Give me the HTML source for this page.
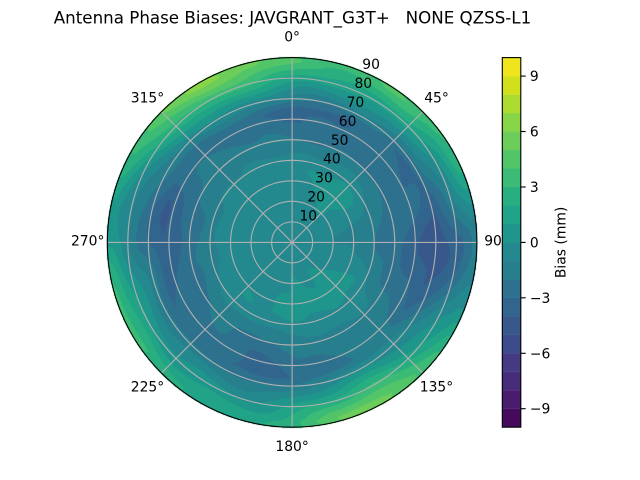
<!DOCTYPE html>
<html><head><meta charset="utf-8">
<style>
html,body{margin:0;padding:0;background:#fff;}
#w{position:relative;width:640px;height:480px;overflow:hidden;background:#fff;}
canvas,svg{position:absolute;left:0;top:0;}
text{font-family:"DejaVu Sans","Liberation Sans",sans-serif;fill:#000;}
</style></head><body>
<div id="w">
<svg width="640" height="480">
  <circle cx="292.1" cy="242.4" r="184.8" fill="#29af7f"/>
  <circle cx="292.1" cy="242.4" r="170" fill="#2d718e"/>
  <circle cx="292.1" cy="242.4" r="105" fill="#277f8e"/>
  <circle cx="292.1" cy="242.4" r="80" fill="#23898e"/>
</svg>
<canvas id="c" width="640" height="480"></canvas>
<svg width="640" height="480">
  <g fill="none" stroke="#b0b0b0" stroke-width="1.1">
    <circle cx="292.1" cy="242.4" r="20.53"/>
    <circle cx="292.1" cy="242.4" r="41.07"/>
    <circle cx="292.1" cy="242.4" r="61.6"/>
    <circle cx="292.1" cy="242.4" r="82.13"/>
    <circle cx="292.1" cy="242.4" r="102.67"/>
    <circle cx="292.1" cy="242.4" r="123.2"/>
    <circle cx="292.1" cy="242.4" r="143.73"/>
    <circle cx="292.1" cy="242.4" r="164.27"/>
    <line x1="292.1" y1="57.6" x2="292.1" y2="427.2"/>
    <line x1="107.3" y1="242.4" x2="476.9" y2="242.4"/>
    <line x1="161.43" y1="111.73" x2="422.77" y2="373.07"/>
    <line x1="422.77" y1="111.73" x2="161.43" y2="373.07"/>
  </g>
  <circle cx="292.1" cy="242.4" r="184.8" fill="none" stroke="#000" stroke-width="1.1"/>

  <text x="292.5" y="23.5" font-size="16.7" text-anchor="middle" xml:space="preserve" style="white-space:pre">Antenna Phase Biases: JAVGRANT_G3T+   NONE QZSS-L1</text>

  <g font-size="13.89" text-anchor="middle">
    <text x="292.1" y="41.7">0°</text>
    <text x="436.5" y="102.3">45°</text>
    <text x="496.5" y="245.5">90°</text>
    <text x="436.5" y="391.5">135°</text>
    <text x="292.1" y="451">180°</text>
    <text x="147.5" y="391.5">225°</text>
    <text x="87.7" y="245.5">270°</text>
    <text x="147.5" y="102.3">315°</text>

    <text x="308.3" y="220.6">10</text>
    <text x="316.2" y="201.6">20</text>
    <text x="324.0" y="182.7">30</text>
    <text x="331.9" y="163.7">40</text>
    <text x="339.7" y="144.8">50</text>
    <text x="347.6" y="125.9">60</text>
    <text x="355.4" y="106.9">70</text>
    <text x="363.3" y="88.0">80</text>
    <text x="371.1" y="69.0">90</text>
  </g>

  <g>
    <rect x="502.3" y="408.72" width="18.5" height="18.6" fill="#450a5c"/>
    <rect x="502.3" y="390.24" width="18.5" height="18.6" fill="#481b6d"/>
    <rect x="502.3" y="371.76" width="18.5" height="18.6" fill="#472c7a"/>
    <rect x="502.3" y="353.28" width="18.5" height="18.6" fill="#443983"/>
    <rect x="502.3" y="334.8" width="18.5" height="18.6" fill="#3e4b8a"/>
    <rect x="502.3" y="316.32" width="18.5" height="18.6" fill="#38588c"/>
    <rect x="502.3" y="297.84" width="18.5" height="18.6" fill="#32658e"/>
    <rect x="502.3" y="279.36" width="18.5" height="18.6" fill="#2d718e"/>
    <rect x="502.3" y="260.88" width="18.5" height="18.6" fill="#277f8e"/>
    <rect x="502.3" y="242.4" width="18.5" height="18.6" fill="#23898e"/>
    <rect x="502.3" y="223.92" width="18.5" height="18.6" fill="#1f968b"/>
    <rect x="502.3" y="205.44" width="18.5" height="18.6" fill="#20a386"/>
    <rect x="502.3" y="186.96" width="18.5" height="18.6" fill="#29af7f"/>
    <rect x="502.3" y="168.48" width="18.5" height="18.6" fill="#3bbb75"/>
    <rect x="502.3" y="150.0" width="18.5" height="18.6" fill="#52c569"/>
    <rect x="502.3" y="131.52" width="18.5" height="18.6" fill="#6ccd5a"/>
    <rect x="502.3" y="113.04" width="18.5" height="18.6" fill="#89d548"/>
    <rect x="502.3" y="94.56" width="18.5" height="18.6" fill="#addc30"/>
    <rect x="502.3" y="76.08" width="18.5" height="18.6" fill="#d0e11c"/>
    <rect x="502.3" y="57.6" width="18.5" height="18.48" fill="#efe51c"/>
  </g>
  <rect x="502.3" y="57.6" width="18.5" height="369.6" fill="none" stroke="#000" stroke-width="1.1"/>
  <g stroke="#000" stroke-width="1.1">
    <line x1="520.8" y1="76.1" x2="525.7" y2="76.1"/>
    <line x1="520.8" y1="131.5" x2="525.7" y2="131.5"/>
    <line x1="520.8" y1="187.0" x2="525.7" y2="187.0"/>
    <line x1="520.8" y1="242.4" x2="525.7" y2="242.4"/>
    <line x1="520.8" y1="297.8" x2="525.7" y2="297.8"/>
    <line x1="520.8" y1="353.3" x2="525.7" y2="353.3"/>
    <line x1="520.8" y1="408.7" x2="525.7" y2="408.7"/>
  </g>
  <g font-size="13.89" text-anchor="start">
    <text x="529.9" y="81.1">9</text>
    <text x="529.9" y="136.5">6</text>
    <text x="529.9" y="192.0">3</text>
    <text x="529.9" y="247.4">0</text>
    <text x="529.9" y="302.8">−3</text>
    <text x="529.9" y="358.3">−6</text>
    <text x="529.9" y="413.7">−9</text>
  </g>
  <text font-size="13.89" text-anchor="middle" transform="translate(565.5,242.4) rotate(-90)">Bias (mm)</text>
</svg>
</div>
<script>
(function(){
var B=['#450a5c','#481b6d','#472c7a','#443983','#3e4b8a','#38588c','#32658e','#2d718e','#277f8e','#23898e','#1f968b','#20a386','#29af7f','#3bbb75','#52c569','#6ccd5a','#89d548','#addc30','#d0e11c','#efe51c'];
var rgb=B.map(function(h){return [parseInt(h.substr(1,2),16),parseInt(h.substr(3,2),16),parseInt(h.substr(5,2),16)];});
var E=[4.2,3.6,3.8,4.0,3.0,0.5,-1.8,-1.0,1.5,3.5,5.5,4.5,3.0,2.0,2.0,2.7,3.5,2.8,0.8,1.2,2.5,5.0,6.0,5.2];
var M=[-3.4,-3.0,-3.0,-3.0,-3.2,-3.8,-5.0,-4.0,-3.0,-1.8,-1.5,-2.2,-2.8,-3.4,-3.0,-2.6,-3.0,-3.6,-4.3,-4.1,-3.0,-2.6,-2.3,-2.8];
var ZR=[65,65,66,67,68,70,70,68,64,64,64,66,66,65,66,68,65,63,63,63,64,64,63,63];
var P=[0.3,0.5,0.8,0.8,0.3,-0.6,-1.0,-0.3,0.6,0.7,0.8,0.8,0.8,0.6,0.4,0.3,0,-0.3,-0.3,-0.2,0,0,0.2,0.3];
function cr(arr,a){
  var t=(((a%360)+360)%360)/15; var i=Math.floor(t); var f=t-i;
  var p0=arr[(i+23)%24],p1=arr[i%24],p2=arr[(i+1)%24],p3=arr[(i+2)%24];
  return 0.5*((2*p1)+(-p0+p2)*f+(2*p0-5*p1+4*p2-p3)*f*f+(-p0+3*p1-3*p2+p3)*f*f*f);
}
function field(z,a){
  var e=cr(E,a),m=cr(M,a),zr=cr(ZR,a),p=cr(P,a);
  var n0=-0.4,n35=-0.5+p,n50=0.45*m-0.6,v;
  if(z<35) v=n0+(n35-n0)*(z/35);
  else if(z<50) v=n35+(n50-n35)*((z-35)/15);
  else if(z<zr) v=n50+(m-n50)*((z-50)/(zr-50));
  else if(z<88) v=m+(e-m)*((z-zr)/(88-zr));
  else v=e;
  var ar=a*Math.PI/180;
  v+=(z/90)*(0.45*Math.sin(5*ar+z*0.11)*Math.cos(3*ar-z*0.07)+0.25*Math.sin(11*ar+z*0.3));
  return v;
}
var cv=document.getElementById('c'),ctx=cv.getContext('2d');
var img=ctx.createImageData(640,480),d=img.data;
var cx=292.1,cy=242.4,R=184.8;
for(var y=54;y<432;y++){for(var x=104;x<481;x++){
  var dx=x+0.5-cx,dy=y+0.5-cy,r=Math.sqrt(dx*dx+dy*dy);
  if(r>R+0.6)continue;
  var z=Math.min(r,R)/R*90;
  var a=Math.atan2(dx,-dy)*180/Math.PI; if(a<0)a+=360;
  var v=field(z,a);
  var k=Math.floor(v)+10; if(k<0)k=0; if(k>19)k=19;
  var c=rgb[k],i=(y*640+x)*4;
  d[i]=c[0];d[i+1]=c[1];d[i+2]=c[2];d[i+3]=255;
}}
ctx.putImageData(img,0,0);
})();
</script>
</body></html>
